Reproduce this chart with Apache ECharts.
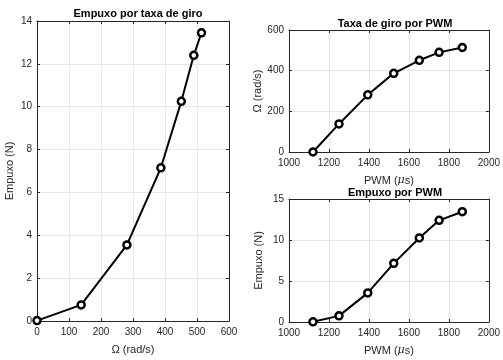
<!DOCTYPE html>
<html>
<head>
<meta charset="utf-8">
<script src="https://cdn.jsdelivr.net/npm/echarts@6/dist/echarts.min.js"></script>
<style>
  html, body { margin: 0; padding: 0; background: #fff; }
  #chart { width: 503px; height: 360px; }
</style>
</head>
<body>
<div id="chart"></div>
<script>
  // valores
  var pwm = [1120, 1250, 1394, 1524, 1652, 1751, 1867];
  var omega = [0, 138, 281, 387, 451, 490, 514];
  var empuxo = [0.02, 0.75, 3.55, 7.15, 10.25, 12.4, 13.45];

  function pares(xs, ys) {
    return xs.map(function (x, i) { return [x, ys[i]]; });
  }

  var fonte = "Liberation Sans, Arial, sans-serif";
  var cinza = "#262626";

  function eixoX(grid, min, max, step, nome) {
    return {
      type: "value", gridIndex: grid, min: min, max: max, interval: step,
      name: nome, nameLocation: "middle", nameGap: 23,
      nameTextStyle: {
        color: cinza, fontSize: 11, fontFamily: fonte,
        rich: { i: { fontStyle: "italic", fontSize: 11, color: cinza, fontFamily: "DejaVu Serif" } }
      },
      axisLine: { show: true, onZero: false, lineStyle: { color: cinza, width: 1 } },
      axisTick: { show: true, inside: true, length: 3, lineStyle: { color: cinza } },
      axisLabel: { color: cinza, fontSize: 10, fontFamily: fonte, margin: 6,
        formatter: function (v) { return String(v); } },
      splitLine: { show: true, lineStyle: { color: "#e6e6e6", width: 1 } }
    };
  }
  function eixoY(grid, min, max, step, nome, gap) {
    return {
      type: "value", gridIndex: grid, min: min, max: max, interval: step,
      name: nome, nameLocation: "middle", nameGap: gap, nameRotate: 90,
      nameTextStyle: { color: cinza, fontSize: 11, fontFamily: fonte },
      axisLine: { show: true, onZero: false, lineStyle: { color: cinza, width: 1 } },
      axisTick: { show: true, inside: true, length: 3, lineStyle: { color: cinza } },
      axisLabel: { color: cinza, fontSize: 10, fontFamily: fonte, margin: 5,
        formatter: function (v) { return String(v); } },
      splitLine: { show: true, lineStyle: { color: "#e6e6e6", width: 1 } }
    };
  }
  function espelho(tipo, grid, min, max, step) {
    return {
      type: "value", gridIndex: grid, min: min, max: max, interval: step,
      position: tipo === "x" ? "top" : "right",
      axisLine: { show: true, onZero: false, lineStyle: { color: cinza, width: 1 } },
      axisTick: { show: true, inside: true, length: 3, lineStyle: { color: cinza } },
      axisLabel: { show: false },
      splitLine: { show: false }
    };
  }
  function serie(xi, yi, dados) {
    return {
      type: "line", xAxisIndex: xi, yAxisIndex: yi, data: dados,
      symbol: "circle", symbolSize: 7, showAllSymbol: true,
      lineStyle: { color: "#000", width: 2 },
      itemStyle: { color: "#fff", borderColor: "#000", borderWidth: 2.5 },
      animation: false
    };
  }

  var chart = echarts.init(document.getElementById("chart"), null, { renderer: "canvas" });
  var titulo = { color: "#000", fontSize: 11, fontWeight: "bold", fontFamily: fonte };
  var option = {
    backgroundColor: "#fff",
    animation: false,
    title: [
      { text: "Empuxo por taxa de giro", left: 133, top: 3, textAlign: "center", textStyle: titulo },
      { text: "Taxa de giro por PWM", left: 390, top: 13, textAlign: "center", textStyle: titulo },
      { text: "Empuxo por PWM", left: 390, top: 182, textAlign: "center", textStyle: titulo }
    ],
    grid: [
      { left: 37, top: 21, width: 192, height: 308 },
      { left: 289, top: 30, width: 203, height: 122 },
      { left: 289, top: 199, width: 203, height: 123 }
    ],
    xAxis: [
      eixoX(0, 0, 600, 100, "Ω (rad/s)"),
      eixoX(1, 1000, 2000, 200, "PWM ({i|μ}s)"),
      eixoX(2, 1000, 2000, 200, "PWM ({i|μ}s)"),
      espelho("x", 0, 0, 600, 100),
      espelho("x", 1, 1000, 2000, 200),
      espelho("x", 2, 1000, 2000, 200)
    ],
    yAxis: [
      eixoY(0, 0, 14, 2, "Empuxo (N)", 22),
      eixoY(1, 0, 600, 200, "Ω (rad/s)", 25),
      eixoY(2, 0, 15, 5, "Empuxo (N)", 25),
      espelho("y", 0, 0, 14, 2),
      espelho("y", 1, 0, 600, 200),
      espelho("y", 2, 0, 15, 5)
    ],
    series: [
      serie(0, 0, pares(omega, empuxo)),
      serie(1, 1, pares(pwm, omega)),
      serie(2, 2, pares(pwm, empuxo))
    ]
  };
  chart.setOption(option);
</script>
</body>
</html>
